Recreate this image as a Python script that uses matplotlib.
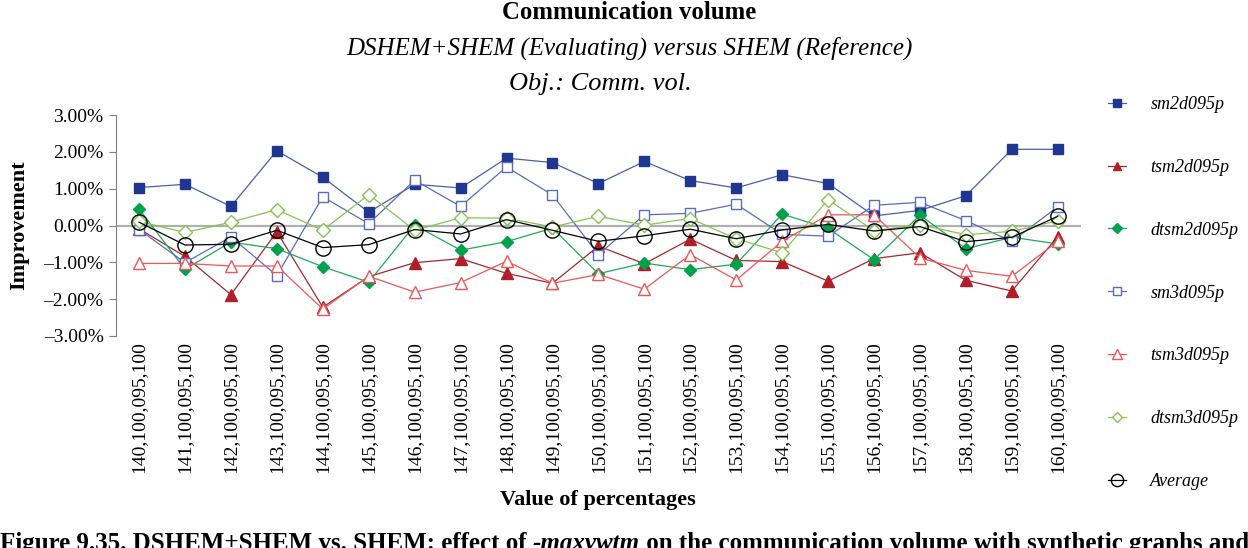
import matplotlib
matplotlib.use("Agg")
import matplotlib.pyplot as plt
from matplotlib.ticker import FuncFormatter

categories = ["140,100,095,100", "141,100,095,100", "142,100,095,100", "143,100,095,100",
              "144,100,095,100", "145,100,095,100", "146,100,095,100", "147,100,095,100",
              "148,100,095,100", "149,100,095,100", "150,100,095,100", "151,100,095,100",
              "152,100,095,100", "153,100,095,100", "154,100,095,100", "155,100,095,100",
              "156,100,095,100", "157,100,095,100", "158,100,095,100", "159,100,095,100",
              "160,100,095,100"]

sm2d095p = [1.03, 1.12, 0.52, 2.03, 1.31, 0.36, 1.12, 1.02, 1.83, 1.71, 1.14, 1.74,
            1.22, 1.02, 1.38, 1.14, 0.26, 0.41, 0.81, 2.07, 2.07]
tsm2d095p = [-0.09, -0.84, -1.88, -0.17, -2.22, -1.39, -1.01, -0.90, -1.30, -1.57, -0.56, -1.04,
             -0.37, -0.95, -0.98, -1.51, -0.90, -0.74, -1.49, -1.78, -0.30]
dtsm2d095p = [0.45, -1.19, -0.45, -0.63, -1.12, -1.54, 0.01, -0.67, -0.44, -0.07, -1.31, -1.02,
              -1.20, -1.05, 0.31, -0.08, -0.93, 0.28, -0.63, -0.32, -0.50]
sm3d095p = [-0.11, -1.01, -0.31, -1.36, 0.78, 0.05, 1.23, 0.52, 1.59, 0.83, -0.79, 0.29,
            0.33, 0.58, -0.24, -0.29, 0.55, 0.63, 0.13, -0.43, 0.51]
tsm3d095p = [-1.03, -1.03, -1.10, -1.10, -2.27, -1.38, -1.81, -1.55, -0.97, -1.57, -1.33, -1.73,
             -0.79, -1.48, -0.43, 0.29, 0.29, -0.88, -1.22, -1.38, -0.43]
dtsm3d095p = [0.11, -0.19, 0.09, 0.43, -0.13, 0.84, -0.13, 0.21, 0.20, -0.04, 0.25, 0.01,
              0.19, -0.36, -0.74, 0.70, -0.14, 0.02, -0.25, -0.16, 0.13]
average = [0.09, -0.53, -0.51, -0.13, -0.60, -0.52, -0.11, -0.23, 0.16, -0.13, -0.43, -0.28,
           -0.10, -0.36, -0.12, 0.03, -0.15, -0.03, -0.44, -0.32, 0.25]

series_names = ["sm2d095p", "tsm2d095p", "dtsm2d095p", "sm3d095p", "tsm3d095p", "dtsm3d095p", "Average"]
yticks = [3, 2, 1, 0, -1, -2, -3]

SERIF = ["Liberation Serif", "DejaVu Serif"]
plt.rcParams['font.family'] = SERIF

fig = plt.figure(figsize=(12.48, 5.48), dpi=100)
ax = fig.add_axes([0.093, 0.387, 0.773, 0.403])

x = list(range(len(categories)))
styles = [
    (sm2d095p, dict(color="#4a5db0", marker="s", mfc="#1f3790", mec="#1f3790", ms=7)),
    (tsm2d095p, dict(color="#a8262c", marker="^", mfc="#b01e28", mec="#b01e28", ms=8)),
    (dtsm2d095p, dict(color="#1bab55", marker="D", mfc="#00a14b", mec="#00a14b", ms=6.5)),
    (sm3d095p, dict(color="#5a6cbf", marker="s", mfc="white", mec="#5a6cbf", ms=7)),
    (tsm3d095p, dict(color="#f0555a", marker="^", mfc="white", mec="#f0555a", ms=8.5)),
    (dtsm3d095p, dict(color="#86c450", marker="D", mfc="white", mec="#86c450", ms=7)),
    (average, dict(color="black", marker="o", mfc="none", mec="black", ms=11)),
]

ax.axhline(0, color="#b0b0b0", lw=1.6, zorder=1)
handles = []
for (vals, st), name in zip(styles, series_names):
    h, = ax.plot(x, vals, lw=0.9, mew=1.0, label=name, zorder=3, **st)
    handles.append(h)

ax.set_xlim(-0.5, len(categories) - 0.5)
ax.set_ylim(-3, 3)
ax.set_yticks(yticks)
ax.yaxis.set_major_formatter(FuncFormatter(lambda v, p: ("\u2013" if v < 0 else "") + f"{abs(v):.2f}%"))
ax.set_xticks(x)
ax.set_xticklabels(categories, rotation=90, fontsize=14)
ax.tick_params(axis='y', labelsize=14, length=5, color="#808080", direction='out', pad=4)
ax.tick_params(axis='x', length=0, pad=4)
for s in ["top", "right"]:
    ax.spines[s].set_visible(False)
ax.spines["left"].set_color("#808080")
ax.spines["bottom"].set_visible(False)

ax.set_ylabel("Improvement", fontsize=16, fontweight="bold", labelpad=10)
fig.text(0.479, 0.087, "Value of percentages", ha="center", va="center", fontsize=16, fontweight="bold")

fig.text(0.504, 0.978, "Communication volume", ha="center", va="center", fontsize=17.8, fontweight="bold")
fig.text(0.504, 0.912, "DSHEM+SHEM (Evaluating) versus SHEM (Reference)", ha="center", va="center",
         fontsize=18, style="italic")
fig.text(0.481, 0.846, "Obj.: Comm. vol.", ha="center", va="center", fontsize=19, style="italic")

leg = fig.legend(handles=handles, labels=series_names, loc="upper left", bbox_to_anchor=(0.882, 0.838),
                 frameon=False, prop=dict(family=SERIF, style="italic", size=13),
                 labelspacing=2.54, handlelength=1.0, handletextpad=1.35, borderaxespad=0,
                 markerscale=0.8)

# caption (partially cut at bottom, as in the reference)
fig.canvas.draw()
r = fig.canvas.get_renderer()
parts = [("Figure 9.35. DSHEM+SHEM vs. SHEM: effect of ", "normal"),
         ("-maxvwtm", "italic"),
         (" on the communication volume with synthetic graphs and", "normal")]
xpos = 0.0
for txt, sty in parts:
    t = fig.text(xpos, -0.012, txt, ha="left", va="bottom", fontsize=18, fontweight="bold", style=sty)
    bb = t.get_window_extent(renderer=r)
    xpos += bb.width / fig.bbox.width

fig.savefig("out.png", dpi=100)
